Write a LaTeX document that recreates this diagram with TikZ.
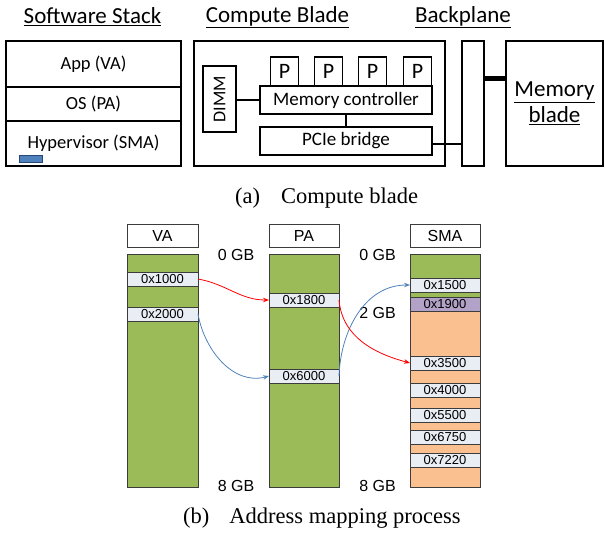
\documentclass[tikz,border=0pt]{standalone}
\usepackage{fontspec}
\setmainfont{Carlito}
\newfontfamily\arialf{Liberation Sans}
\newfontfamily\timesf{Liberation Serif}
\usetikzlibrary{arrows.meta}
\definecolor{bargreen}{RGB}{155,187,89}
\definecolor{peach}{RGB}{250,192,144}
\definecolor{lilac}{RGB}{179,162,199}
\definecolor{entryc}{RGB}{233,237,244}
\definecolor{arrblue}{RGB}{79,129,189}
\definecolor{arrred}{RGB}{255,0,0}
\definecolor{bluefill}{RGB}{79,129,189}
\definecolor{blueedge}{RGB}{40,70,120}
\definecolor{barline}{RGB}{60,60,60}
\tikzset{
  box/.style={draw=black, line width=1.1pt, fill=white, inner sep=0pt, outer sep=0pt, rectangle},
  hdr/.style={inner sep=0pt, font=\fontsize{23}{27}\selectfont},
  stk/.style={font=\fontsize{18.5}{22}\selectfont},
  cbt/.style={font=\fontsize{19}{23}\selectfont},
  pbt/.style={font=\fontsize{22}{26}\selectfont},
  conn/.style={line width=2pt},
  captxt/.style={inner sep=0pt, anchor=base west, font=\timesf\fontsize{22.5}{27}\selectfont},
  barbox/.style={draw=barline, line width=0.9pt, inner sep=0pt, outer sep=0pt, rectangle},
  hbox/.style={barbox, fill=white, minimum height=23pt, font=\arialf\fontsize{16}{19}\selectfont},
  entrybox/.style={barbox, fill=entryc, minimum height=14pt, font=\arialf\fontsize{13}{15}\selectfont},
  gb/.style={inner sep=0pt, font=\arialf\fontsize{16}{19}\selectfont},
  maparrow/.style={line width=0.8pt, -{Stealth[length=6pt,width=4.5pt]}}
}
\begin{document}
\begin{tikzpicture}[x=1pt,y=-1pt]
\useasboundingbox (0,0) rectangle (605,539);
% headers
\node[hdr] (hss) at (92.5,17) {\underline{Software Stack}};
\node[hdr] (hcb) at (277.5,17) {\underline{Compute Blade}};
\node[hdr] (hbp) at (463,17) {\underline{Backplane}};
% software stack
\node[box, stk, minimum width=175pt, minimum height=46pt] (app) at (93.5,64) {App (VA)};
\node[box, stk, minimum width=175pt, minimum height=34pt] (os) at (93.5,104) {OS (PA)};
\node[box, stk, minimum width=175pt, minimum height=45pt] (hyp) at (93.5,143.5) {Hypervisor (SMA)};
\node[draw=blueedge, fill=bluefill, line width=1pt, inner sep=0pt, minimum width=23pt, minimum height=7pt] (hv) at (30.5,158.5) {};
% compute blade
\node[box, minimum width=251pt, minimum height=125pt] (cb) at (319.5,103.5) {};
\node[box, minimum width=33pt, minimum height=66pt] (dimm) at (219.5,99) {};
\node[rotate=90, inner sep=0pt, font=\fontsize{18}{22}\selectfont] (dimmt) at (dimm.center) {DIMM};
\node[box, pbt, minimum width=28pt, minimum height=29pt] (p1) at (284.5,71.5) {P};
\node[box, pbt, minimum width=28pt, minimum height=29pt] (p2) at (328.5,71.5) {P};
\node[box, pbt, minimum width=28pt, minimum height=29pt] (p3) at (372.5,71.5) {P};
\node[box, pbt, minimum width=28pt, minimum height=29pt] (p4) at (417.5,71.5) {P};
\node[box, cbt, minimum width=172pt, minimum height=28pt] (mc) at (346,100) {Memory controller};
\node[box, cbt, minimum width=172pt, minimum height=28pt] (pcie) at (346,141) {PCIe bridge};
% backplane and memory blade
\node[box, minimum width=22pt, minimum height=125pt] (bp) at (473,103.5) {};
\node[box, align=center, font=\fontsize{23}{28}\selectfont, minimum width=97pt, minimum height=125pt] (mb) at (554.5,103.5) {\underline{Memory}\\[-2pt]\underline{blade}};
% connections
\draw[conn] (mc.west) -- (mc.west -| dimm.east);
\draw[conn] (mc.south) -- (pcie.north);
\draw[conn] ([yshift=-3pt]pcie.east) -- ([yshift=-3pt]pcie.east -| bp.west);
\coordinate (thk) at (0,78);
\draw[line width=5pt] (bp.east |- thk) -- (mb.west |- thk);
% caption a
\node[captxt] (capa) at (235,203.5) {(a)\hspace{21pt}Compute blade};
% address mapping headers
\node[hbox, minimum width=71pt] (vah) at (162.5,235.5) {VA};
\node[hbox, minimum width=70pt] (pah) at (304,235.5) {PA};
\node[hbox, minimum width=70pt] (smah) at (445,235.5) {SMA};
% VA bar
\node[barbox, fill=bargreen, minimum width=71pt, minimum height=233pt] (vabar) at (162.5,370.5) {};
\node[entrybox, minimum width=71pt] (va1) at (162.5,279) {0x1000};
\node[entrybox, minimum width=71pt] (va2) at (162.5,314) {0x2000};
% PA bar
\node[barbox, fill=bargreen, minimum width=70pt, minimum height=233pt] (pabar) at (304,370.5) {};
\node[entrybox, minimum width=70pt] (pa1) at (304,300) {0x1800};
\node[entrybox, minimum width=70pt] (pa2) at (304,376) {0x6000};
% SMA bar
\node[inner sep=0pt, outer sep=0pt, fill=bargreen, minimum width=70pt, minimum height=233pt] (smabar) at (445,370.5) {};
\node[inner sep=0pt, outer sep=0pt, fill=peach, minimum width=70pt, minimum height=190pt] (smaor) at (445,392) {};
\draw[draw=barline, line width=0.9pt] (smabar.north west) rectangle (smabar.south east);
\node[entrybox, minimum width=70pt] (s1) at (445,285) {0x1500};
\node[entrybox, fill=lilac, minimum width=70pt] (s2) at (445,304) {0x1900};
\node[entrybox, minimum width=70pt] (s3) at (445,363) {0x3500};
\node[entrybox, minimum width=70pt] (s4) at (445,390) {0x4000};
\node[entrybox, minimum width=70pt] (s5) at (445,415) {0x5500};
\node[entrybox, minimum width=70pt] (s6) at (445,437) {0x6750};
\node[entrybox, minimum width=70pt] (s7) at (445,460) {0x7220};
% GB labels
\node[gb] (g0a) at (236,255) {0 GB};
\node[gb] (g0b) at (377.5,255) {0 GB};
\node[gb] (g2b) at (377.5,313) {2 GB};
\node[gb] (g8a) at (236,486) {8 GB};
\node[gb] (g8b) at (377.5,486) {8 GB};
% arrows
\draw[maparrow, arrred] (va1.east) to[out=-10, in=180] (pa1.west);
\draw[maparrow, arrblue] (va2.east) to[out=-80, in=195] (pa2.west);
\draw[maparrow, arrblue] (pa2.east) to[out=88, in=180] (s1.west);
\draw[maparrow, arrred] (pa1.east) to[out=-85, in=165] (s3.west);
% caption b
\node[captxt] (capb) at (183,523.5) {(b)\hspace{20pt}Address mapping process};
\end{tikzpicture}
\end{document}
